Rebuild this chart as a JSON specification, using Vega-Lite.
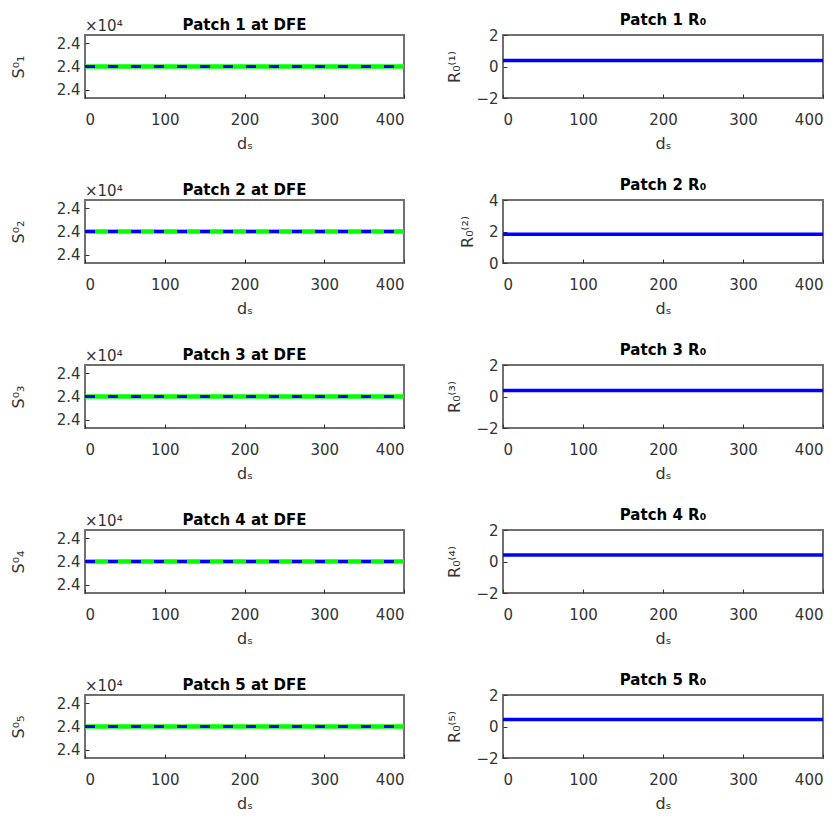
{
  "$schema": "https://vega.github.io/schema/vega-lite/v6.json",
  "background": "white",
  "padding": {"left": 9, "top": 12, "right": 5, "bottom": 5},
  "autosize": {"type": "pad"},
  "bounds": "flush",
  "spacing": {"row": 102, "column": 99},
  "columns": 2,
  "datasets": {
    "lines": [
      {"patch": 1, "series": "green", "ds": 0, "v": 2.4}, {"patch": 1, "series": "green", "ds": 400, "v": 2.4},
      {"patch": 1, "series": "blue", "ds": 0, "v": 2.4}, {"patch": 1, "series": "blue", "ds": 400, "v": 2.4},
      {"patch": 2, "series": "green", "ds": 0, "v": 2.4}, {"patch": 2, "series": "green", "ds": 400, "v": 2.4},
      {"patch": 2, "series": "blue", "ds": 0, "v": 2.4}, {"patch": 2, "series": "blue", "ds": 400, "v": 2.4},
      {"patch": 3, "series": "green", "ds": 0, "v": 2.4}, {"patch": 3, "series": "green", "ds": 400, "v": 2.4},
      {"patch": 3, "series": "blue", "ds": 0, "v": 2.4}, {"patch": 3, "series": "blue", "ds": 400, "v": 2.4},
      {"patch": 4, "series": "green", "ds": 0, "v": 2.4}, {"patch": 4, "series": "green", "ds": 400, "v": 2.4},
      {"patch": 4, "series": "blue", "ds": 0, "v": 2.4}, {"patch": 4, "series": "blue", "ds": 400, "v": 2.4},
      {"patch": 5, "series": "green", "ds": 0, "v": 2.4}, {"patch": 5, "series": "green", "ds": 400, "v": 2.4},
      {"patch": 5, "series": "blue", "ds": 0, "v": 2.4}, {"patch": 5, "series": "blue", "ds": 400, "v": 2.4},
      {"patch": 1, "series": "R0", "ds": 0, "v": 0.38}, {"patch": 1, "series": "R0", "ds": 400, "v": 0.38},
      {"patch": 2, "series": "R0", "ds": 0, "v": 1.83}, {"patch": 2, "series": "R0", "ds": 400, "v": 1.83},
      {"patch": 3, "series": "R0", "ds": 0, "v": 0.38}, {"patch": 3, "series": "R0", "ds": 400, "v": 0.38},
      {"patch": 4, "series": "R0", "ds": 0, "v": 0.42}, {"patch": 4, "series": "R0", "ds": 400, "v": 0.42},
      {"patch": 5, "series": "R0", "ds": 0, "v": 0.44}, {"patch": 5, "series": "R0", "ds": 400, "v": 0.44}
    ],
    "mult": [{"m": "×10⁴"}]
  },
  "concat": [
    {
      "width": 319, "height": 63, "title": {"text": "Patch 1 at DFE", "offset": -14},
      "resolve": {"scale": {"y": "independent"}, "axis": {"y": "independent"}},
      "layer": [
        {"data": {"name": "lines"}, "transform": [{"filter": "datum.patch==1 && datum.series=='green'"}], "mark": {"type": "line", "color": "#00ff00", "strokeWidth": 4.5},
         "encoding": {
          "x": {"field": "ds", "type": "quantitative", "scale": {"domain": [0, 400], "nice": false}, "axis": {"values": [0, 100, 200, 300, 400], "title": "dₛ"}},
          "y": {"field": "v", "type": "quantitative", "scale": {"domain": [2.399999865, 2.400000135], "zero": false, "nice": false}, "axis": {"values": [2.3999999, 2.4, 2.4000001], "format": ".1f", "labelOverlap": false, "title": "S⁰₁", "labelPadding": 9, "titlePadding": 30}}
         }},
        {"data": {"name": "lines"}, "transform": [{"filter": "datum.patch==1 && datum.series=='blue'"}], "mark": {"type": "line", "color": "#0000ff", "strokeWidth": 3, "strokeDash": [10, 13]},
         "encoding": {"x": {"field": "ds", "type": "quantitative"}, "y": {"field": "v", "type": "quantitative", "scale": {"domain": [2.399999865, 2.400000135], "zero": false, "nice": false}, "axis": null}}},
        {"data": {"name": "mult"}, "mark": {"type": "text", "align": "left", "baseline": "bottom", "dy": -1, "fontSize": 15, "color": "#333333"},
         "encoding": {"x": {"datum": 0, "type": "quantitative"}, "y": {"datum": 2.400000135, "type": "quantitative", "scale": {"domain": [2.399999865, 2.400000135], "zero": false, "nice": false}, "axis": null}, "text": {"field": "m", "type": "nominal"}}}
      ]
    },
    {
      "width": 320, "height": 63, "title": {"text": "Patch 1 R₀", "offset": 0}, "data": {"name": "lines"},
      "transform": [{"filter": "datum.patch==1 && datum.series=='R0'"}],
      "mark": {"type": "line", "color": "#0000ff", "strokeWidth": 3.5},
      "encoding": {
        "x": {"field": "ds", "type": "quantitative", "scale": {"domain": [0, 400], "nice": false}, "axis": {"values": [0, 100, 200, 300, 400], "title": "dₛ"}},
        "y": {"field": "v", "type": "quantitative", "scale": {"domain": [-2, 2], "nice": false}, "axis": {"values": [-2, 0, 2], "labelOverlap": false, "title": "R₀⁽¹⁾", "labelPadding": 9, "titlePadding": 13}}
      }
    },
    {
      "width": 319, "height": 63, "title": {"text": "Patch 2 at DFE", "offset": -14},
      "resolve": {"scale": {"y": "independent"}, "axis": {"y": "independent"}},
      "layer": [
        {"data": {"name": "lines"}, "transform": [{"filter": "datum.patch==2 && datum.series=='green'"}], "mark": {"type": "line", "color": "#00ff00", "strokeWidth": 4.5},
         "encoding": {
          "x": {"field": "ds", "type": "quantitative", "scale": {"domain": [0, 400], "nice": false}, "axis": {"values": [0, 100, 200, 300, 400], "title": "dₛ"}},
          "y": {"field": "v", "type": "quantitative", "scale": {"domain": [2.399999865, 2.400000135], "zero": false, "nice": false}, "axis": {"values": [2.3999999, 2.4, 2.4000001], "format": ".1f", "labelOverlap": false, "title": "S⁰₂", "labelPadding": 9, "titlePadding": 30}}
         }},
        {"data": {"name": "lines"}, "transform": [{"filter": "datum.patch==2 && datum.series=='blue'"}], "mark": {"type": "line", "color": "#0000ff", "strokeWidth": 3, "strokeDash": [10, 13]},
         "encoding": {"x": {"field": "ds", "type": "quantitative"}, "y": {"field": "v", "type": "quantitative", "scale": {"domain": [2.399999865, 2.400000135], "zero": false, "nice": false}, "axis": null}}},
        {"data": {"name": "mult"}, "mark": {"type": "text", "align": "left", "baseline": "bottom", "dy": -1, "fontSize": 15, "color": "#333333"},
         "encoding": {"x": {"datum": 0, "type": "quantitative"}, "y": {"datum": 2.400000135, "type": "quantitative", "scale": {"domain": [2.399999865, 2.400000135], "zero": false, "nice": false}, "axis": null}, "text": {"field": "m", "type": "nominal"}}}
      ]
    },
    {
      "width": 320, "height": 63, "title": {"text": "Patch 2 R₀", "offset": 0}, "data": {"name": "lines"},
      "transform": [{"filter": "datum.patch==2 && datum.series=='R0'"}],
      "mark": {"type": "line", "color": "#0000ff", "strokeWidth": 3.5},
      "encoding": {
        "x": {"field": "ds", "type": "quantitative", "scale": {"domain": [0, 400], "nice": false}, "axis": {"values": [0, 100, 200, 300, 400], "title": "dₛ"}},
        "y": {"field": "v", "type": "quantitative", "scale": {"domain": [0, 4], "nice": false}, "axis": {"values": [0, 2, 4], "labelOverlap": false, "title": "R₀⁽²⁾", "labelPadding": 9, "titlePadding": 13}}
      }
    },
    {
      "width": 319, "height": 63, "title": {"text": "Patch 3 at DFE", "offset": -14},
      "resolve": {"scale": {"y": "independent"}, "axis": {"y": "independent"}},
      "layer": [
        {"data": {"name": "lines"}, "transform": [{"filter": "datum.patch==3 && datum.series=='green'"}], "mark": {"type": "line", "color": "#00ff00", "strokeWidth": 4.5},
         "encoding": {
          "x": {"field": "ds", "type": "quantitative", "scale": {"domain": [0, 400], "nice": false}, "axis": {"values": [0, 100, 200, 300, 400], "title": "dₛ"}},
          "y": {"field": "v", "type": "quantitative", "scale": {"domain": [2.399999865, 2.400000135], "zero": false, "nice": false}, "axis": {"values": [2.3999999, 2.4, 2.4000001], "format": ".1f", "labelOverlap": false, "title": "S⁰₃", "labelPadding": 9, "titlePadding": 30}}
         }},
        {"data": {"name": "lines"}, "transform": [{"filter": "datum.patch==3 && datum.series=='blue'"}], "mark": {"type": "line", "color": "#0000ff", "strokeWidth": 3, "strokeDash": [10, 13]},
         "encoding": {"x": {"field": "ds", "type": "quantitative"}, "y": {"field": "v", "type": "quantitative", "scale": {"domain": [2.399999865, 2.400000135], "zero": false, "nice": false}, "axis": null}}},
        {"data": {"name": "mult"}, "mark": {"type": "text", "align": "left", "baseline": "bottom", "dy": -1, "fontSize": 15, "color": "#333333"},
         "encoding": {"x": {"datum": 0, "type": "quantitative"}, "y": {"datum": 2.400000135, "type": "quantitative", "scale": {"domain": [2.399999865, 2.400000135], "zero": false, "nice": false}, "axis": null}, "text": {"field": "m", "type": "nominal"}}}
      ]
    },
    {
      "width": 320, "height": 63, "title": {"text": "Patch 3 R₀", "offset": 0}, "data": {"name": "lines"},
      "transform": [{"filter": "datum.patch==3 && datum.series=='R0'"}],
      "mark": {"type": "line", "color": "#0000ff", "strokeWidth": 3.5},
      "encoding": {
        "x": {"field": "ds", "type": "quantitative", "scale": {"domain": [0, 400], "nice": false}, "axis": {"values": [0, 100, 200, 300, 400], "title": "dₛ"}},
        "y": {"field": "v", "type": "quantitative", "scale": {"domain": [-2, 2], "nice": false}, "axis": {"values": [-2, 0, 2], "labelOverlap": false, "title": "R₀⁽³⁾", "labelPadding": 9, "titlePadding": 13}}
      }
    },
    {
      "width": 319, "height": 63, "title": {"text": "Patch 4 at DFE", "offset": -14},
      "resolve": {"scale": {"y": "independent"}, "axis": {"y": "independent"}},
      "layer": [
        {"data": {"name": "lines"}, "transform": [{"filter": "datum.patch==4 && datum.series=='green'"}], "mark": {"type": "line", "color": "#00ff00", "strokeWidth": 4.5},
         "encoding": {
          "x": {"field": "ds", "type": "quantitative", "scale": {"domain": [0, 400], "nice": false}, "axis": {"values": [0, 100, 200, 300, 400], "title": "dₛ"}},
          "y": {"field": "v", "type": "quantitative", "scale": {"domain": [2.399999865, 2.400000135], "zero": false, "nice": false}, "axis": {"values": [2.3999999, 2.4, 2.4000001], "format": ".1f", "labelOverlap": false, "title": "S⁰₄", "labelPadding": 9, "titlePadding": 30}}
         }},
        {"data": {"name": "lines"}, "transform": [{"filter": "datum.patch==4 && datum.series=='blue'"}], "mark": {"type": "line", "color": "#0000ff", "strokeWidth": 3, "strokeDash": [10, 13]},
         "encoding": {"x": {"field": "ds", "type": "quantitative"}, "y": {"field": "v", "type": "quantitative", "scale": {"domain": [2.399999865, 2.400000135], "zero": false, "nice": false}, "axis": null}}},
        {"data": {"name": "mult"}, "mark": {"type": "text", "align": "left", "baseline": "bottom", "dy": -1, "fontSize": 15, "color": "#333333"},
         "encoding": {"x": {"datum": 0, "type": "quantitative"}, "y": {"datum": 2.400000135, "type": "quantitative", "scale": {"domain": [2.399999865, 2.400000135], "zero": false, "nice": false}, "axis": null}, "text": {"field": "m", "type": "nominal"}}}
      ]
    },
    {
      "width": 320, "height": 63, "title": {"text": "Patch 4 R₀", "offset": 0}, "data": {"name": "lines"},
      "transform": [{"filter": "datum.patch==4 && datum.series=='R0'"}],
      "mark": {"type": "line", "color": "#0000ff", "strokeWidth": 3.5},
      "encoding": {
        "x": {"field": "ds", "type": "quantitative", "scale": {"domain": [0, 400], "nice": false}, "axis": {"values": [0, 100, 200, 300, 400], "title": "dₛ"}},
        "y": {"field": "v", "type": "quantitative", "scale": {"domain": [-2, 2], "nice": false}, "axis": {"values": [-2, 0, 2], "labelOverlap": false, "title": "R₀⁽⁴⁾", "labelPadding": 9, "titlePadding": 13}}
      }
    },
    {
      "width": 319, "height": 63, "title": {"text": "Patch 5 at DFE", "offset": -14},
      "resolve": {"scale": {"y": "independent"}, "axis": {"y": "independent"}},
      "layer": [
        {"data": {"name": "lines"}, "transform": [{"filter": "datum.patch==5 && datum.series=='green'"}], "mark": {"type": "line", "color": "#00ff00", "strokeWidth": 4.5},
         "encoding": {
          "x": {"field": "ds", "type": "quantitative", "scale": {"domain": [0, 400], "nice": false}, "axis": {"values": [0, 100, 200, 300, 400], "title": "dₛ"}},
          "y": {"field": "v", "type": "quantitative", "scale": {"domain": [2.399999865, 2.400000135], "zero": false, "nice": false}, "axis": {"values": [2.3999999, 2.4, 2.4000001], "format": ".1f", "labelOverlap": false, "title": "S⁰₅", "labelPadding": 9, "titlePadding": 30}}
         }},
        {"data": {"name": "lines"}, "transform": [{"filter": "datum.patch==5 && datum.series=='blue'"}], "mark": {"type": "line", "color": "#0000ff", "strokeWidth": 3, "strokeDash": [10, 13]},
         "encoding": {"x": {"field": "ds", "type": "quantitative"}, "y": {"field": "v", "type": "quantitative", "scale": {"domain": [2.399999865, 2.400000135], "zero": false, "nice": false}, "axis": null}}},
        {"data": {"name": "mult"}, "mark": {"type": "text", "align": "left", "baseline": "bottom", "dy": -1, "fontSize": 15, "color": "#333333"},
         "encoding": {"x": {"datum": 0, "type": "quantitative"}, "y": {"datum": 2.400000135, "type": "quantitative", "scale": {"domain": [2.399999865, 2.400000135], "zero": false, "nice": false}, "axis": null}, "text": {"field": "m", "type": "nominal"}}}
      ]
    },
    {
      "width": 320, "height": 63, "title": {"text": "Patch 5 R₀", "offset": 0}, "data": {"name": "lines"},
      "transform": [{"filter": "datum.patch==5 && datum.series=='R0'"}],
      "mark": {"type": "line", "color": "#0000ff", "strokeWidth": 3.5},
      "encoding": {
        "x": {"field": "ds", "type": "quantitative", "scale": {"domain": [0, 400], "nice": false}, "axis": {"values": [0, 100, 200, 300, 400], "title": "dₛ"}},
        "y": {"field": "v", "type": "quantitative", "scale": {"domain": [-2, 2], "nice": false}, "axis": {"values": [-2, 0, 2], "labelOverlap": false, "title": "R₀⁽⁵⁾", "labelPadding": 9, "titlePadding": 13}}
      }
    }
  ],
  "config": {
    "font": "DejaVu Sans",
    "view": {"stroke": "#707070", "strokeWidth": 2},
    "axis": {"grid": false, "domain": false, "labelFontSize": 15, "labelColor": "#333333", "titleFontSize": 16, "titleColor": "#333333", "titleFontWeight": "normal", "tickColor": "#333333", "tickSize": -4},
    "axisX": {"labelPadding": 18, "titlePadding": 8},
    "title": {"fontSize": 15, "fontWeight": "bold", "color": "#000000", "anchor": "middle", "frame": "group"}
  }
}
